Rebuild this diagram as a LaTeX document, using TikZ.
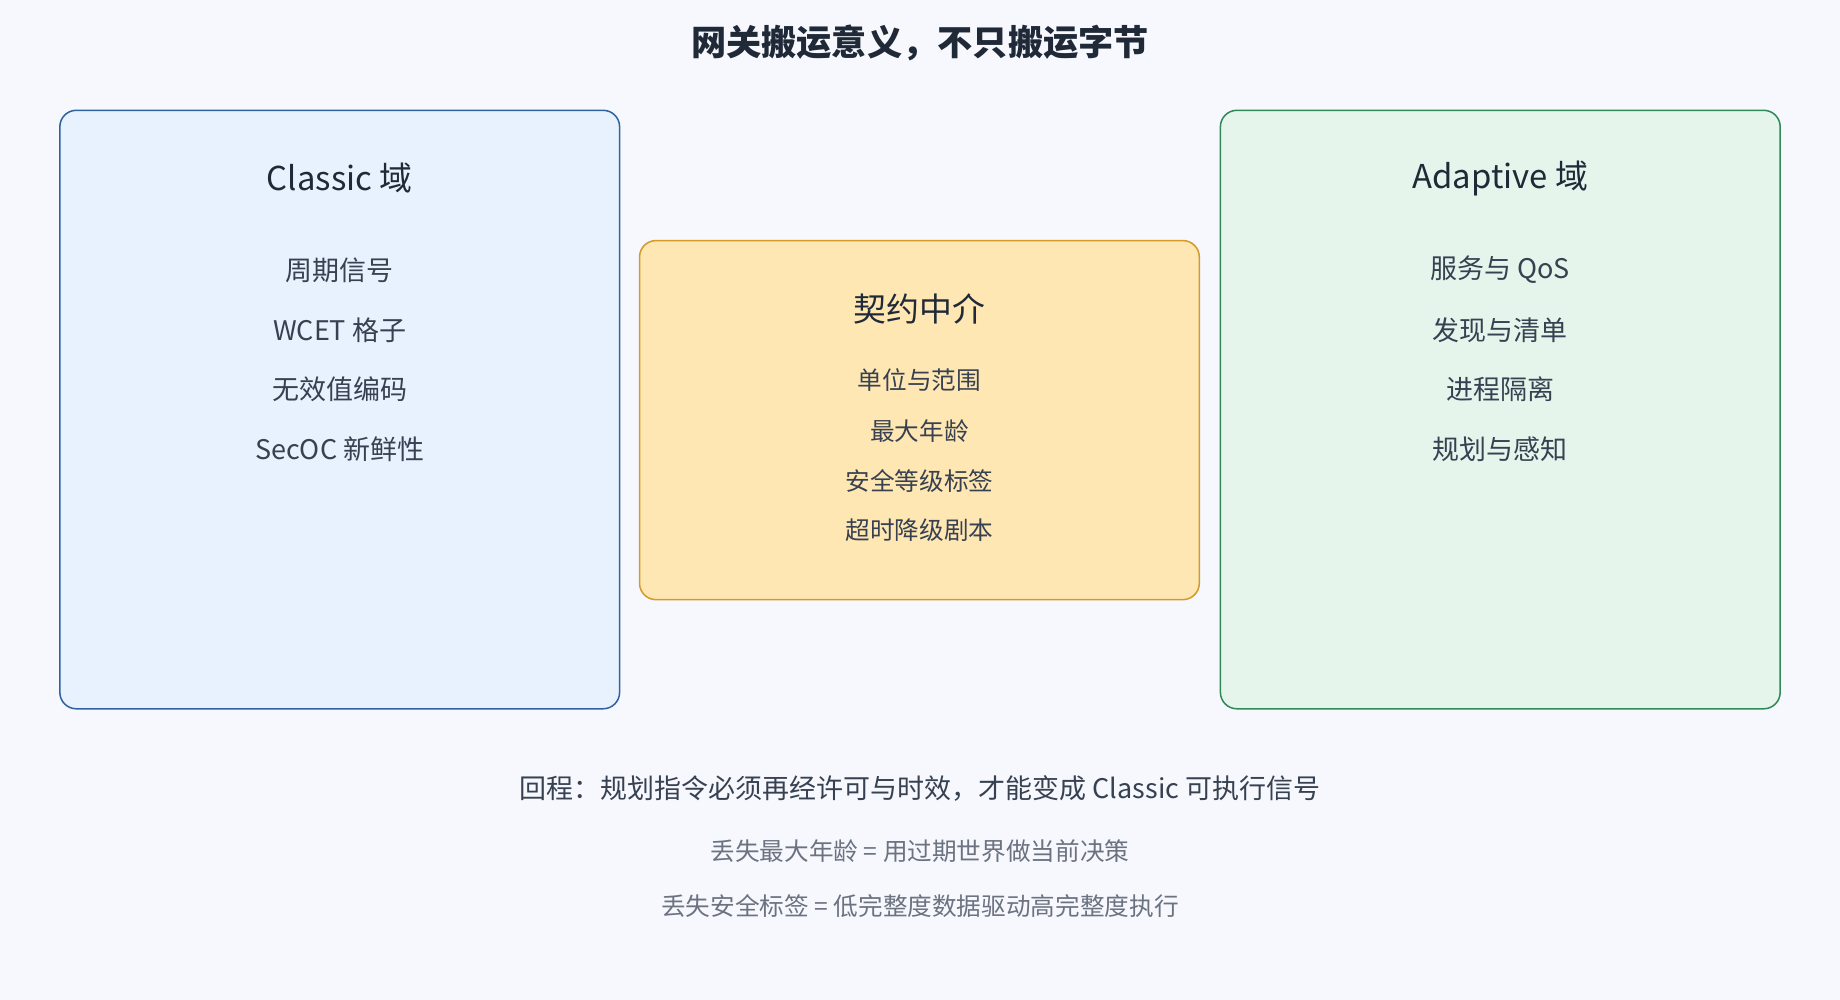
\documentclass[tikz,border=0pt]{standalone}
\usepackage{fontspec}
\setmainfont{Noto Sans CJK SC}
\begin{document}
\definecolor{bg}{HTML}{F6F8FD}
\definecolor{lfill}{HTML}{E8F1FE}\definecolor{ldraw}{HTML}{2F64A0}
\definecolor{mfill}{HTML}{FFE7B3}\definecolor{mdraw}{HTML}{D49A2A}
\definecolor{rfill}{HTML}{E6F5EC}\definecolor{rdraw}{HTML}{2E8B57}
\definecolor{dark}{HTML}{1F2937}\definecolor{mid}{HTML}{374151}\definecolor{gry}{HTML}{6B7280}
\begin{tikzpicture}[x=1pt,y=-1pt,
  box/.style={rounded corners=14pt,line width=1.3pt},
  ttl/.style={font=\fontsize{28}{30}\selectfont,text=dark},
  itm/.style={font=\fontsize{23}{26}\selectfont,text=mid},
  mitm/.style={font=\fontsize{21}{24}\selectfont,text=mid}]
\fill[bg] (0,0) rectangle (1568,852);
\useasboundingbox (0,0) rectangle (1568,852);
\node[font=\bfseries\fontsize{30}{32}\selectfont,text=dark] (title) at (784,37) {网关搬运意义，不只搬运字节};
\draw[box,fill=lfill,draw=ldraw] (51,94) rectangle (528,604);
\draw[box,fill=mfill,draw=mdraw] (545,205) rectangle (1022,511);
\draw[box,fill=rfill,draw=rdraw] (1040,94) rectangle (1517,604);
\node[ttl] (lt) at (289.5,152) {Classic 域};
\node[itm] (l1) at (289.5,230) {周期信号};
\node[itm] (l2) at (289.5,281) {WCET 格子};
\node[itm] (l3) at (289.5,332) {无效值编码};
\node[itm] (l4) at (289.5,383) {SecOC 新鲜性};
\node[ttl] (mt) at (783.5,263) {契约中介};
\node[mitm] (m1) at (783.5,324) {单位与范围};
\node[mitm] (m2) at (783.5,367) {最大年龄};
\node[mitm] (m3) at (783.5,410) {安全等级标签};
\node[mitm] (m4) at (783.5,452) {超时降级剧本};
\node[ttl] (rt) at (1278.5,152) {Adaptive 域};
\node[itm] (r1) at (1278.5,230) {服务与 QoS};
\node[itm] (r2) at (1278.5,281) {发现与清单};
\node[itm] (r3) at (1278.5,332) {进程隔离};
\node[itm] (r4) at (1278.5,383) {规划与感知};
\node[itm] (b1) at (784,672) {回程：规划指令必须再经许可与时效，才能变成 Classic 可执行信号};
\node[font=\fontsize{21}{24}\selectfont,text=gry] (b2) at (784,725) {丢失最大年龄 = 用过期世界做当前决策};
\node[font=\fontsize{21}{24}\selectfont,text=gry] (b3) at (784,772) {丢失安全标签 = 低完整度数据驱动高完整度执行};
\end{tikzpicture}
\end{document}
